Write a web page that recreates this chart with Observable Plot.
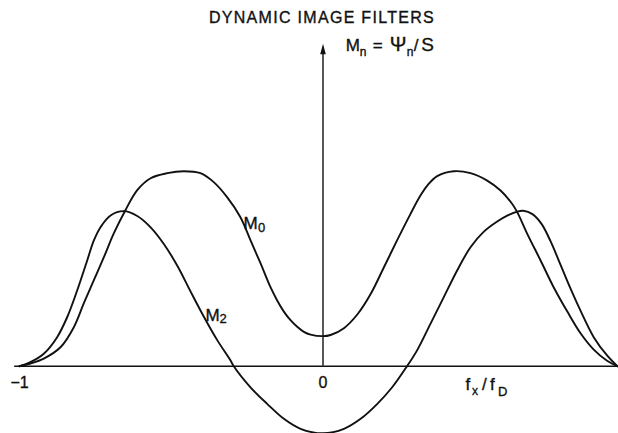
<!DOCTYPE html>
<html>
<head>
<meta charset="utf-8">
<script src="https://cdn.jsdelivr.net/npm/d3@7"></script>
<script src="https://cdn.jsdelivr.net/npm/@observablehq/plot@0.6"></script>
<style>
  body { margin: 0; background: #fff; }
  #wrap { position: relative; width: 618px; }
  #title { position: relative; height: 30px; }
  #title span {
    position: absolute; left: 0; width: 644px; top: 10px;
    text-align: center; font: 16px "Liberation Sans", Arial, sans-serif;
    letter-spacing: 1.3px; line-height: 16px; color: #111;
    -webkit-text-stroke: 0.35px #111;
  }
  svg { display: block; }
</style>
</head>
<body>
<div id="wrap">
  <div id="title"><span>DYNAMIC IMAGE FILTERS</span></div>
  <div id="chart"></div>
</div>
<script>
// Normalised spatial frequency f_x/f_D and filter response M_n = Ψ_n/S
const m0X = [-1.0, -0.964, -0.920, -0.865, -0.821, -0.788, -0.755, -0.722, -0.689, -0.651,
  -0.612, -0.568, -0.513, -0.459, -0.404, -0.360, -0.316, -0.272, -0.239, -0.206,
  -0.173, -0.151, -0.129, -0.107, -0.085, -0.063, -0.041, 0, 0.025, 0.069,
  0.113, 0.157, 0.200, 0.244, 0.288, 0.321, 0.343, 0.376, 0.431, 0.486,
  0.541, 0.585, 0.623, 0.640, 0.673, 0.717, 0.760, 0.805, 0.848, 0.892, 0.936, 0.970];
const m0Y = [0, 0.014, 0.039, 0.097, 0.200, 0.323, 0.441, 0.559, 0.682, 0.800,
  0.903, 0.964, 0.990, 1.000, 0.990, 0.944, 0.867, 0.764, 0.646, 0.528,
  0.405, 0.337, 0.280, 0.236, 0.202, 0.176, 0.162, 0.154, 0.160, 0.195,
  0.265, 0.370, 0.505, 0.645, 0.780, 0.875, 0.925, 0.975, 1.000, 0.990,
  0.952, 0.901, 0.833, 0.790, 0.679, 0.542, 0.405, 0.280, 0.170, 0.085, 0.028, 0];

const m2X = [-1.0, -0.964, -0.920, -0.876, -0.843, -0.810, -0.777, -0.755, -0.733, -0.700,
  -0.656, -0.612, -0.568, -0.525, -0.480, -0.437, -0.393, -0.349, -0.305, -0.294,
  -0.239, -0.184, -0.129, -0.074, 0, 0.069, 0.124, 0.179, 0.228, 0.277,
  0.310, 0.354, 0.398, 0.442, 0.486, 0.530, 0.574, 0.607, 0.640, 0.660,
  0.690, 0.720, 0.750, 0.780, 0.815, 0.848, 0.892, 0.936, 0.970];
const m2Y = [0, 0.021, 0.064, 0.149, 0.251, 0.388, 0.542, 0.645, 0.713, 0.773,
  0.795, 0.770, 0.712, 0.628, 0.515, 0.385, 0.255, 0.135, 0.030, 0,
  -0.108, -0.193, -0.270, -0.321, -0.344, -0.321, -0.270, -0.193, -0.108, 0,
  0.081, 0.217, 0.354, 0.491, 0.610, 0.690, 0.742, 0.772, 0.793, 0.797,
  0.780, 0.730, 0.640, 0.530, 0.400, 0.286, 0.149, 0.055, 0];

const tickValues = [-1, 0];
const tickLabels = ["−1", "0"];
const xLabelParts = ["f", "x", "/", "f", "D"];
const yLabelParts = ["M", "n", "=", "Ψ", "n", "/", "S"];
const m0LabelParts = ["M", "0"];
const m2LabelParts = ["M", "2"];

const m0 = m0X.map((x, i) => ({x, y: m0Y[i]}));
const m2 = m2X.map((x, i) => ({x, y: m2Y[i]}));

const ink = "#111";
const font = "Liberation Sans, Arial, sans-serif";

// a multi-part label (main text with lowered subscripts) anchored at one data point
function partsLabel(parts, at, offsets) {
  return parts.map((t, i) => Plot.text([t], {
    x: at[0], y: at[1], text: d => d,
    textAnchor: "start", lineAnchor: "bottom",
    dx: offsets[i][0], dy: offsets[i][1], fontSize: offsets[i][2],
    fill: ink, stroke: ink, strokeWidth: 0.35, fontFamily: font
  }));
}

// solid arrowhead with its tip at the anchor point
const arrowHead = {
  draw(ctx) { ctx.moveTo(0, 0); ctx.lineTo(2.8, 10.5); ctx.lineTo(-2.8, 10.5); ctx.closePath(); }
};

const chart = Plot.plot({
  width: 618,
  height: 403,
  marginTop: 0, marginBottom: 0, marginLeft: 0, marginRight: 0,
  x: {domain: [-322.5 / 303.5, 295.5 / 303.5], axis: null},
  y: {domain: [-67.3 / 195, 335.7 / 195], axis: null},
  style: {background: "#fff", fontFamily: font},
  marks: [
    Plot.ruleY([0], {x1: -1.016, x2: 1, stroke: ink, strokeWidth: 1.5}),
    Plot.ruleX([0], {y1: 0, y2: 1.62, stroke: ink, strokeWidth: 1.4}),
    Plot.dot([0], {x: 0, y: 1.653, symbol: arrowHead, fill: ink, stroke: "none"}),
    Plot.line(m0, {x: "x", y: "y", curve: "catmull-rom", stroke: ink, strokeWidth: 1.9}),
    Plot.line(m2, {x: "x", y: "y", curve: "catmull-rom", stroke: ink, strokeWidth: 1.9}),
    Plot.text(tickValues, {
      x: d => d, y: -0.111, text: (d, i) => tickLabels[i],
      textAnchor: "middle", lineAnchor: "bottom", fontSize: 16,
      fill: ink, stroke: ink, strokeWidth: 0.35, fontFamily: font
    }),
    ...partsLabel(xLabelParts, [0.4695, -0.1195],
      [[0, 0, 17], [6.5, 5, 12], [16.5, 0, 17], [24.5, 0, 17], [32.5, 6, 13]]),
    ...partsLabel(yLabelParts, [0.075, 1.615],
      [[0, 0, 17], [14, 5, 12], [27, 0, 17], [44, 0, 20], [61, 5, 12], [68, 0, 17], [75.5, 0, 19]]),
    ...partsLabel(m0LabelParts, [-0.262, 0.706], [[0, 0, 17], [14.5, 3, 13]]),
    ...partsLabel(m2LabelParts, [-0.387, 0.232], [[0, 0, 17], [14, 2, 13]])
  ]
});
document.getElementById("chart").append(chart);
</script>
</body>
</html>
